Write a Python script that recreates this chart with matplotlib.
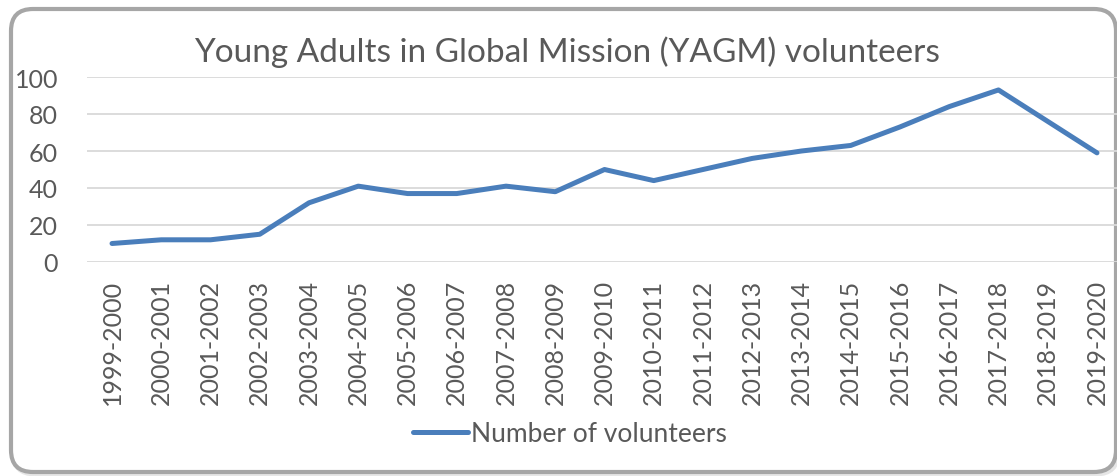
import matplotlib
matplotlib.use("Agg")
import matplotlib.pyplot as plt
from matplotlib.patches import FancyBboxPatch

categories = ["1999-2000", "2000-2001", "2001-2002", "2002-2003", "2003-2004",
              "2004-2005", "2005-2006", "2006-2007", "2007-2008", "2008-2009",
              "2009-2010", "2010-2011", "2011-2012", "2012-2013", "2013-2014",
              "2014-2015", "2015-2016", "2016-2017", "2017-2018", "2018-2019",
              "2019-2020"]
volunteers = [10, 12, 12, 15, 32, 41, 37, 37, 41, 38, 50, 44, 50, 56, 60, 63,
              73, 84, 93, 76, 59]
yticks = [0, 20, 40, 60, 80, 100]
title = "Young Adults in Global Mission (YAGM) volunteers"
series_name = "Number of volunteers"

plt.rcParams['font.family'] = ['Lato', 'DejaVu Sans']
text_color = "#595959"
line_color = "#4a7ebb"
grid_color = "#d9d9d9"

W, H = 1117, 477
fig = plt.figure(figsize=(W / 100, H / 100), dpi=100)

# chart border (rounded, with a light shadow), in inches
shadow = FancyBboxPatch((0.13, 0.02), 11.05, 4.63,
                        boxstyle="round,pad=0,rounding_size=0.22",
                        transform=fig.dpi_scale_trans, facecolor="none",
                        edgecolor="#e6e6e6", linewidth=3.5, zorder=-11)
fig.patches.append(shadow)
border = FancyBboxPatch((0.11, 0.04), 11.05, 4.63,
                        boxstyle="round,pad=0,rounding_size=0.22",
                        transform=fig.dpi_scale_trans, facecolor="white",
                        edgecolor="#a6a6a6", linewidth=3.0, zorder=-10)
fig.patches.append(border)

ax = fig.add_axes([87.4 / W, 214 / H, 1034.2 / W, 185 / H])
ax.set_facecolor("none")
x = list(range(len(categories)))
line, = ax.plot(x, volunteers, color=line_color, linewidth=3.6,
                solid_capstyle="round", solid_joinstyle="round",
                label=series_name)
ax.set_xlim(-0.5, len(categories) - 0.5)
ax.set_ylim(0, 100)
ax.set_yticks(yticks)
ax.set_xticks(x)
ax.set_xticklabels(categories, rotation=90, fontsize=18, color=text_color)
ax.set_yticklabels([str(v) for v in yticks], fontsize=18, color=text_color)
ax.tick_params(axis="both", length=0)
ax.tick_params(axis="y", pad=21)
ax.tick_params(axis="x", pad=12)
ax.grid(axis="y", color=grid_color, linewidth=1.3)
ax.set_axisbelow(True)
for s in ax.spines.values():
    s.set_visible(False)

fig.text(567 / W, 1 - 52 / H, title, ha="center", va="center",
         fontsize=24, color=text_color)

leg = fig.legend(handles=[line], labels=[series_name], loc="center",
                 bbox_to_anchor=(570 / W, 1 - 435 / H), frameon=False,
                 fontsize=19, handlelength=2.1, handletextpad=0.1,
                 labelcolor=text_color)

fig.savefig("out.png", dpi=100)
